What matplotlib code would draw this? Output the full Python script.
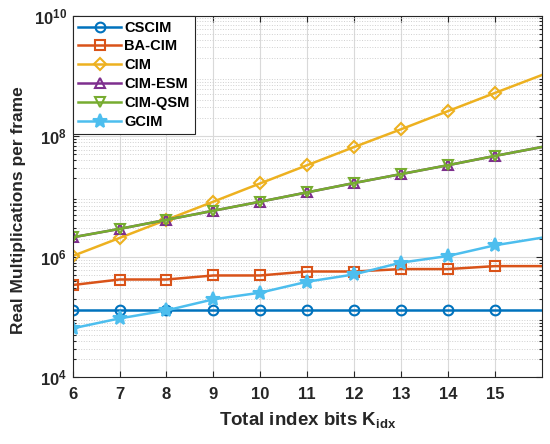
import math
import matplotlib
matplotlib.use("Agg")
import matplotlib.pyplot as plt
from matplotlib.ticker import LogLocator, FixedLocator, FuncFormatter, NullFormatter

plt.rcParams['font.family'] = ['Liberation Sans', 'DejaVu Sans']
plt.rcParams['font.weight'] = 'bold'
plt.rcParams['mathtext.fontset'] = 'custom'
plt.rcParams['mathtext.rm'] = 'Liberation Sans:bold'
plt.rcParams['mathtext.bf'] = 'Liberation Sans:bold'
plt.rcParams['mathtext.it'] = 'Liberation Sans:bold'
plt.rcParams['mathtext.default'] = 'bf'

k_bits = [6, 7, 8, 9, 10, 11, 12, 13, 14, 15, 16]
cscim = [1.31e5] * 11
ba_cim = [3.4e5, 4.2e5, 4.2e5, 4.9e5, 4.9e5, 5.7e5, 5.7e5, 6.25e5, 6.25e5, 7.0e5, 7.0e5]
cim = [1.03e6, 2.05e6, 4.1e6, 8.2e6, 1.65e7, 3.3e7, 6.6e7, 1.3e8, 2.6e8, 5.2e8, 1.03e9]
cim_esm = [2.1e6, 2.9e6, 4.1e6, 5.8e6, 8.2e6, 1.17e7, 1.67e7, 2.35e7, 3.3e7, 4.7e7, 6.6e7]
cim_qsm = [2.1e6, 2.9e6, 4.1e6, 5.8e6, 8.2e6, 1.17e7, 1.67e7, 2.35e7, 3.3e7, 4.7e7, 6.6e7]
gcim = [6.5e4, 9.5e4, 1.29e5, 1.97e5, 2.54e5, 3.86e5, 5.1e5, 8.0e5, 1.03e6, 1.55e6, 2.07e6]
xticks = [6, 7, 8, 9, 10, 11, 12, 13, 14, 15]
ytick_exps = [4, 6, 8, 10]

series = [
    ("CSCIM", cscim, (0, 0.447, 0.741), 'o'),
    ("BA-CIM", ba_cim, (0.85, 0.325, 0.098), 's'),
    ("CIM", cim, (0.929, 0.694, 0.125), 'D'),
    ("CIM-ESM", cim_esm, (0.494, 0.184, 0.556), '^'),
    ("CIM-QSM", cim_qsm, (0.466, 0.674, 0.188), 'v'),
    ("GCIM", gcim, (0.301, 0.745, 0.933), '*'),
]

fig = plt.figure(figsize=(5.5, 4.44), dpi=100)
ax = fig.add_axes([0.132, 0.150, 0.853, 0.815])

sizes = {'o': 7, 's': 6.5, 'D': 6.5, '^': 7, 'v': 7, '*': 10}
for name, vals, col, mk in series:
    ax.plot(k_bits, vals, color=col, marker=mk, markersize=sizes[mk],
            markerfacecolor='none' if mk != '*' else col,
            markeredgewidth=1.5, linewidth=1.8, label=name,
            markevery=list(range(len(k_bits) - 1)))

ax.set_yscale('log')
ax.set_xlim(6, 16)
ax.set_ylim(1e4, 1e10)
ax.xaxis.set_major_locator(FixedLocator(xticks))
ax.yaxis.set_major_locator(FixedLocator([10.0 ** e for e in ytick_exps]))
ax.yaxis.set_minor_locator(LogLocator(base=10, subs=range(2, 10), numticks=50))
ax.yaxis.set_minor_formatter(NullFormatter())
ax.yaxis.set_major_formatter(FuncFormatter(lambda v, p: r'$\mathbf{10^{%d}}$' % round(math.log10(v))))

ax.grid(True, which='major', color='#d9d9d9', linewidth=0.8, linestyle='-')
ax.grid(True, which='minor', axis='y', color='#d0d0d0', linewidth=0.7, linestyle=':')
ax.set_axisbelow(True)

ax.tick_params(which='both', direction='in', top=True, right=True, labelsize=12, width=0.8, colors='#262626')
ax.tick_params(which='major', length=4)
ax.tick_params(which='minor', length=2.5)
ax.tick_params(axis='x', which='major', pad=7)
ax.tick_params(axis='y', which='major', pad=4)
for lab in ax.get_xticklabels() + ax.get_yticklabels():
    lab.set_fontweight('bold')
    lab.set_color('#262626')
for s in ax.spines.values():
    s.set_color('#262626')
    s.set_linewidth(0.8)

ax.set_xlabel(r'Total index bits K$_{\mathbf{idx}}$', fontsize=13.5, fontweight='bold', color='#262626', labelpad=6)
ax.set_ylabel('Real Multiplications per frame', fontsize=12.5, fontweight='bold', color='#262626')
ax.yaxis.set_label_coords(-0.1, 0.463)

leg = ax.legend(loc='upper left', fontsize=10.5, handlelength=3.0, borderaxespad=0.0,
                fancybox=False, framealpha=1, edgecolor='#262626', labelspacing=0.33,
                handletextpad=0.2, borderpad=0.35)
leg.get_frame().set_linewidth(0.8)
for t in leg.get_texts():
    t.set_fontweight('bold')

fig.savefig('out.png', dpi=100)
